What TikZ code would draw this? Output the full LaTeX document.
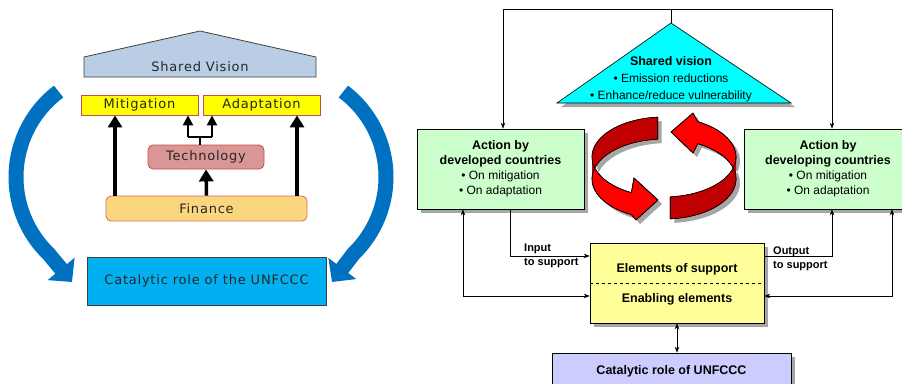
\documentclass[tikz,border=0pt]{standalone}
\usepackage{fontspec}
\setmainfont{Liberation Sans}
\newfontfamily\verdfont{DejaVu Sans}[LetterSpace=6]
\usetikzlibrary{arrows.meta, shadows}
\definecolor{housefill}{HTML}{B9CDE5}
\definecolor{housegray}{HTML}{404040}
\definecolor{boxred}{HTML}{C0504D}
\definecolor{finred}{HTML}{E06666}
\definecolor{mityel}{HTML}{FFFF00}
\definecolor{techfill}{HTML}{D99694}
\definecolor{finfill}{HTML}{FAD77F}
\definecolor{catblue}{HTML}{00B0F0}
\definecolor{arcblue}{HTML}{0070C0}
\definecolor{txtgray}{HTML}{262626}
\definecolor{visioncyan}{HTML}{00FFFF}
\definecolor{actgreen}{HTML}{CCFFCC}
\definecolor{supyellow}{HTML}{FFFF99}
\definecolor{catlilac}{HTML}{CCCCFF}
\definecolor{ribred}{HTML}{FF0000}
\definecolor{ribdark}{HTML}{C00000}
\definecolor{shadgray}{HTML}{A6A6A6}

% red ribbons round the centre (ring centre 664,157)
\newcommand{\ribbonleft}{plot[domain=95:243, samples=40] ({664+72*cos(\x)},{157-40*sin(\x)})
  -- (634,178) -- (658,200) -- (636,220)
  -- plot[domain=243:95, samples=40] ({664+72*cos(\x)},{179-40*sin(\x)}) -- cycle}
\newcommand{\ribbonright}{plot[domain=275:422, samples=40] ({664+72*cos(\x)},{157-40*sin(\x)})
  -- (693,113) -- (671,132) -- (693,153)
  -- plot[domain=422:275, samples=40] ({664+72*cos(\x)},{179-40*sin(\x)}) -- cycle}

\begin{document}
\begin{tikzpicture}[x=1pt, y=-1pt,
  >={Stealth[length=6pt, width=4.5pt]},
  vtxt/.style={font=\verdfont\fontsize{13}{16}\selectfont, text=txtgray, inner sep=0pt},
  pillar/.style={vtxt, draw=boxred, line width=0.8pt, fill=mityel,
    minimum width=117pt, minimum height=20pt},
  roundbox/.style={vtxt, line width=0.8pt, rounded corners=5pt},
  thickarr/.style={-{Triangle[length=12pt, width=14pt]}, line width=3.5pt},
  twigarr/.style={-{Triangle[length=10pt, width=10pt]}, line width=2.2pt},
  bigcurve/.style={-{Triangle[length=17pt, width=34pt]}, line width=15pt, draw=arcblue},
  shad/.style={drop shadow={shadow xshift=4pt, shadow yshift=-4pt, fill=shadgray, opacity=1}},
  abox/.style={draw=black, line width=0.6pt, align=center, inner sep=0pt, shad,
    font=\fontsize{12}{15}\selectfont},
  hd/.style={font=\bfseries\fontsize{12.5}{15}\selectfont, inner sep=0pt},
  link/.style={line width=0.6pt},
  small/.style={font=\bfseries\fontsize{11}{13.5}\selectfont, align=left, inner sep=0pt},
]
\useasboundingbox (0,0) rectangle (902,383);

% ==================================================
% Left: house of pillars
% ==================================================
\filldraw[fill=housefill, draw=housegray, line width=0.8pt]
  (84,77) -- (84,57) -- (200,31) -- (316,57) -- (316,77) -- cycle;
\node[vtxt] (vision) at (200,67) {Shared Vision};

\node[pillar] (mitig) at (139.5,105) {Mitigation};
\node[pillar] (adapt) at (261.5,105) {Adaptation};
\node[roundbox, draw=boxred, fill=techfill, minimum width=116pt, minimum height=24pt]
  (tech) at (206,157) {Technology};
\node[roundbox, draw=finred, fill=finfill, minimum width=201pt, minimum height=25pt]
  (finance) at (206.5,208.5) {Finance};
\node[vtxt, draw=housegray, line width=0.8pt, fill=catblue, minimum width=239pt,
  minimum height=48pt] (catal) at (206.5,281) {Catalytic role of the UNFCCC};

% finance feeds everything
\coordinate (mitx) at (115,0);
\coordinate (adax) at (297,0);
\draw[thickarr] (finance.north -| mitx) -- (mitig.south -| mitx);
\draw[thickarr] (finance.north -| adax) -- (adapt.south -| adax);
\draw[thickarr] (finance.north) -- (tech.south);

% technology branches to both pillars
\coordinate (branch) at (200,137);
\coordinate (bl) at (188,137);
\coordinate (br) at (212,137);
\draw[line width=2.2pt] (tech.north -| branch) -- (branch);
\draw[line width=2.2pt] (bl) -- (br);
\draw[twigarr] (bl) -- (bl |- mitig.south);
\draw[twigarr] (br) -- (br |- adapt.south);

% big blue arcs
\coordinate (ltip) at (72,282);
\coordinate (rtip) at (332,282);
\draw[bigcurve] plot[domain=127:226, samples=40] ({123+107*cos(\x)},{177-107*sin(\x)}) -- (ltip);
\draw[bigcurve] plot[domain=127:226, samples=40] ({279-107*cos(\x)},{177-107*sin(\x)}) -- (rtip);

% ==================================================
% Right: flow of support
% ==================================================
\coordinate (apex) at (671,23);
\filldraw[fill=visioncyan, draw=black, line width=0.6pt, shad]
  (apex) -- (791,103) -- (557,103) -- cycle;
\node[align=center, inner sep=0pt, font=\fontsize{12}{17}\selectfont] (svtext) at (671,79)
  {{\bfseries\fontsize{12.5}{17}\selectfont Shared vision}\\• Emission reductions\\• Enhance/reduce vulnerability};

\node[abox, fill=actgreen, minimum width=167pt, minimum height=80pt] (devd) at (500.5,169)
  {{\bfseries\fontsize{12.5}{15}\selectfont Action by}\\{\bfseries\fontsize{12.5}{15}\selectfont developed countries}\\• On mitigation\\• On adaptation};
\node[abox, fill=actgreen, minimum width=168pt, minimum height=80pt] (devg) at (828,169)
  {{\bfseries\fontsize{12.5}{15}\selectfont Action by}\\{\bfseries\fontsize{12.5}{15}\selectfont developing countries}\\• On mitigation\\• On adaptation};

\node[abox, fill=supyellow, minimum width=174pt, minimum height=80pt] (support) at (677,283) {};
\draw[dashed, line width=0.6pt] (support.west) -- (support.east);
\node[hd] (elsup) at (677,269) {Elements of support};
\node[hd] (enab) at (677,299) {Enabling elements};

\node[abox, fill=catlilac, minimum width=239pt, minimum height=42pt] (unfccc) at (671.5,374) {};
\node[hd] (catlbl) at (671.5,371) {Catalytic role of UNFCCC};

% red ribbons
\filldraw[fill=ribred, draw=black, line width=0.6pt, shad] \ribbonleft;
\fill[ribdark] plot[domain=95:180, samples=30] ({664+72*cos(\x)},{157-40*sin(\x)})
  -- plot[domain=180:95, samples=30] ({664+72*cos(\x)},{179-40*sin(\x)}) -- cycle;
\draw[line width=0.6pt] \ribbonleft;
\filldraw[fill=ribred, draw=black, line width=0.6pt, shad] \ribbonright;
\fill[ribdark] plot[domain=275:360, samples=30] ({664+72*cos(\x)},{157-40*sin(\x)})
  -- plot[domain=360:275, samples=30] ({664+72*cos(\x)},{179-40*sin(\x)}) -- cycle;
\draw[line width=0.6pt] \ribbonright;

% top distribution line
\coordinate (topm) at (671,9);
\coordinate (topl) at (503,9);
\coordinate (topr) at (832,9);
\draw[link] (apex) -- (topm);
\draw[link, ->] (topm) -- (topl) -- (devd.north -| topl);
\draw[link, ->] (topm) -- (topr) -- (devg.north -| topr);

% input / output and outer loops
\coordinate (inpt) at (510,256);
\coordinate (lo) at (463,296);
\coordinate (outpt) at (832,256);
\coordinate (ro) at (892,296);
\draw[link, ->] (devd.south -| inpt) -- (inpt) -- (support.west |- inpt);
\draw[link, <->] (devd.south -| lo) -- (lo) -- (support.west |- lo);
\draw[link, ->] (support.east |- outpt) -- (outpt) -- (devg.south -| outpt);
\draw[link, <->] (devg.south -| ro) -- (ro) -- (support.east |- ro);
\draw[link, <->] (support.south) -- (support.south |- unfccc.north);

\node[small, anchor=west] (inlbl) at (524,256) {Input\\to support};
\node[small, anchor=west] (outlbl) at (773,259) {Output\\to support};

\end{tikzpicture}
\end{document}
